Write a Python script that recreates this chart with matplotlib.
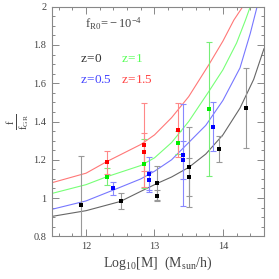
import matplotlib
matplotlib.use("Agg")
import matplotlib.pyplot as plt
from matplotlib.ticker import MultipleLocator

plt.rcParams['font.family'] = ['Liberation Serif', 'DejaVu Serif']
plt.rcParams['mathtext.fontset'] = 'custom'
plt.rcParams['mathtext.rm'] = 'Liberation Serif'
plt.rcParams['mathtext.it'] = 'Liberation Serif'
plt.rcParams['mathtext.bf'] = 'Liberation Serif'

# ---- model curves ----
curve_black_x = [11.5, 12.0, 12.5, 12.8, 13.03, 13.25, 13.5, 13.75, 14.0, 14.25, 14.45, 14.6]
curve_black_y = [0.904, 0.934, 0.982, 1.035, 1.075, 1.11, 1.16, 1.23, 1.33, 1.47, 1.62, 1.78]
curve_blue_x = [11.5, 12.0, 12.4, 12.8, 13.0, 13.25, 13.5, 13.75, 14.0, 14.25, 14.4, 14.5]
curve_blue_y = [0.941, 0.985, 1.042, 1.10, 1.14, 1.20, 1.29, 1.38, 1.51, 1.68, 1.86, 2.0]
curve_green_x = [11.5, 12.0, 12.3, 12.8, 13.0, 13.25, 13.5, 13.8, 14.0, 14.2, 14.33, 14.4]
curve_green_y = [1.024, 1.07, 1.111, 1.17, 1.21, 1.29, 1.40, 1.56, 1.67, 1.81, 1.93, 2.0]
curve_red_x = [11.5, 12.0, 12.3, 12.8, 13.0, 13.25, 13.5, 13.8, 14.0, 14.16, 14.29]
curve_red_y = [1.08, 1.13, 1.19, 1.28, 1.33, 1.42, 1.53, 1.70, 1.82, 1.93, 2.0]

# ---- measurements ----
pts_black_x = [11.93, 12.51, 13.035, 13.035, 13.51, 13.51, 13.95, 14.34]
pts_black_y = [0.962, 0.986, 1.077, 1.012, 1.163, 1.11, 1.256, 1.471]
pts_black_e = [0.26, 0.042, 0.088, 0.03, 0.21, 0.1, 0.068, 0.21]
pts_blue_x = [12.39, 12.92, 12.92, 13.41, 13.41, 13.855]
pts_blue_y = [1.05, 1.124, 1.092, 1.226, 1.20, 1.372]
pts_blue_e = [0.035, 0.09, 0.05, 0.268, 0.1, 0.128]
pts_green_x = [12.30, 12.85, 13.35, 13.79]
pts_green_y = [1.111, 1.18, 1.29, 1.465]
pts_green_e = [0.044, 0.13, 0.06, 0.35]
pts_red_x = [12.31, 12.85, 12.85, 13.35]
pts_red_y = [1.186, 1.277, 1.24, 1.355]
pts_red_e = [0.06, 0.22, 0.1, 0.14]

fig = plt.figure(figsize=(2.79, 2.79), dpi=100)
ax = fig.add_axes([0.186, 0.153, 0.76, 0.823])

series = [
    (curve_black_x, curve_black_y, pts_black_x, pts_black_y, pts_black_e, '#666666', '#999999', '#000000'),
    (curve_blue_x, curve_blue_y, pts_blue_x, pts_blue_y, pts_blue_e, '#7777ff', '#8888ff', '#0000ff'),
    (curve_green_x, curve_green_y, pts_green_x, pts_green_y, pts_green_e, '#77ff77', '#77ee77', '#00ee00'),
    (curve_red_x, curve_red_y, pts_red_x, pts_red_y, pts_red_e, '#ff7777', '#ff8888', '#ff0000'),
]
for cx, cy, px, py, pe, lc, ec, mc in series:
    ax.plot(cx, cy, color=lc, lw=0.8, zorder=2)
    ax.errorbar(px, py, yerr=pe, fmt='none', ecolor=ec, elinewidth=0.8,
                capsize=2, capthick=0.8, zorder=3)
    ax.plot(px, py, 's', color=mc, ms=2.2, mew=0, zorder=4)

ax.set_xlim(11.5, 14.6)
ax.set_ylim(0.8, 2.0)
ax.xaxis.set_major_locator(MultipleLocator(1))
ax.xaxis.set_minor_locator(MultipleLocator(0.2))
ax.yaxis.set_major_locator(MultipleLocator(0.2))
ax.yaxis.set_minor_locator(MultipleLocator(0.05))
ax.set_yticks([0.8, 1.0, 1.2, 1.4, 1.6, 1.8, 2.0])
ax.set_yticklabels(['0.8', '1', '1.2', '1.4', '1.6', '1.8', '2'])
ax.tick_params(which='both', direction='in', top=True, right=True,
               color='#888888', labelcolor='#444444', labelsize=7.5, width=0.7)
ax.tick_params(which='major', length=5, pad=4)
ax.tick_params(which='minor', length=2.5)
for s in ax.spines.values():
    s.set_color('#888888')
    s.set_linewidth(0.8)

ax.set_xlabel(r'$\mathrm{Log_{10}[M]\ \ (M_{sun}/h)}$', fontsize=10, color='#444444', labelpad=3)
ax.set_ylabel(r'$\mathrm{\frac{f}{f_{GR}}}$', fontsize=11, color='#444444', labelpad=2)

ax.text(0.156, 0.925, r'$\mathrm{f_{R0}\!=\!-10^{-4}}$', transform=ax.transAxes,
        fontsize=9, color='#444444', ha='left', va='center')
ax.text(0.132, 0.772, r'$\mathrm{z\!=\!0}$', transform=ax.transAxes,
        fontsize=9.5, color='#333333', ha='left', va='center')
ax.text(0.325, 0.772, r'$\mathrm{z\!=\!1}$', transform=ax.transAxes,
        fontsize=9.5, color='#55ff55', ha='left', va='center')
ax.text(0.132, 0.681, r'$\mathrm{z\!=\!0.5}$', transform=ax.transAxes,
        fontsize=9.5, color='#4444ff', ha='left', va='center')
ax.text(0.325, 0.681, r'$\mathrm{z\!=\!1.5}$', transform=ax.transAxes,
        fontsize=9.5, color='#ff4444', ha='left', va='center')

fig.savefig('out.png', dpi=100)
